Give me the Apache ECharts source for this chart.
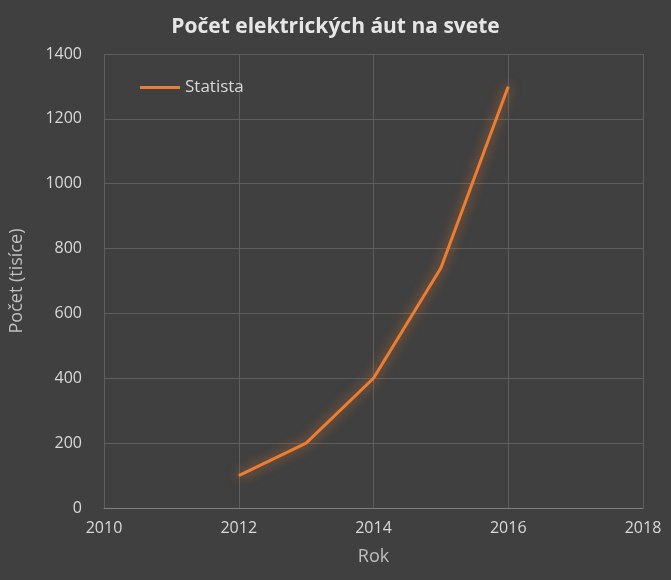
<!DOCTYPE html>
<html><head><meta charset="utf-8">
<script src="https://cdn.jsdelivr.net/npm/echarts@6/dist/echarts.min.js"></script>
<style>html,body{margin:0;background:#404040}#c{width:671px;height:580px}</style>
</head><body><div id="c"></div>
<script>
const years = [2012, 2013, 2014, 2015, 2016];
const counts = [100, 200, 400, 740, 1300];
const chart = echarts.init(document.getElementById('c'));
const font = '"Open Sans", "Noto Sans", sans-serif';
chart.setOption({
  backgroundColor: '#404040',
  title: {text: 'Počet elektrických áut na svete', left: 'center', top: 12,
    textStyle: {color: '#e6e6e6', fontSize: 21, fontWeight: 'bold', fontFamily: font}},
  legend: {left: 135, top: 74, itemWidth: 40, itemHeight: 3,
    textStyle: {color: '#d9d9d9', fontSize: 17, fontFamily: font},
    data: [{name: 'Statista', icon: 'rect'}]},
  grid: {left: 103, right: 28, top: 54, bottom: 72},
  xAxis: {type: 'value', min: 2010, max: 2018, interval: 2, name: 'Rok', nameLocation: 'middle', nameGap: 40,
    nameTextStyle: {color: '#bfbfbf', fontSize: 18, fontFamily: font},
    axisLine: {show: true, lineStyle: {color: '#7f7f7f'}}, axisTick: {show: false},
    axisLabel: {color: '#d9d9d9', fontSize: 16, fontFamily: font, margin: 12, formatter: v => String(v)},
    splitLine: {show: true, lineStyle: {color: '#5e5e5e'}}},
  yAxis: {type: 'value', min: 0, max: 1400, interval: 200, name: 'Počet (tisíce)', nameLocation: 'middle', nameGap: 78,
    nameTextStyle: {color: '#bfbfbf', fontSize: 18, fontFamily: font},
    axisLine: {show: false}, axisTick: {show: false},
    axisLabel: {color: '#d9d9d9', fontSize: 16, fontFamily: font, margin: 22, formatter: v => String(v)},
    splitLine: {lineStyle: {color: '#5e5e5e'}}},
  series: [{name: 'Statista', type: 'line', data: years.map((y, i) => [y, counts[i]]),
    smooth: false, showSymbol: false, color: '#ED7D31',
    lineStyle: {width: 3, color: '#ED7D31', shadowColor: 'rgba(237,125,49,0.8)', shadowBlur: 12}}]
});
</script></body></html>
